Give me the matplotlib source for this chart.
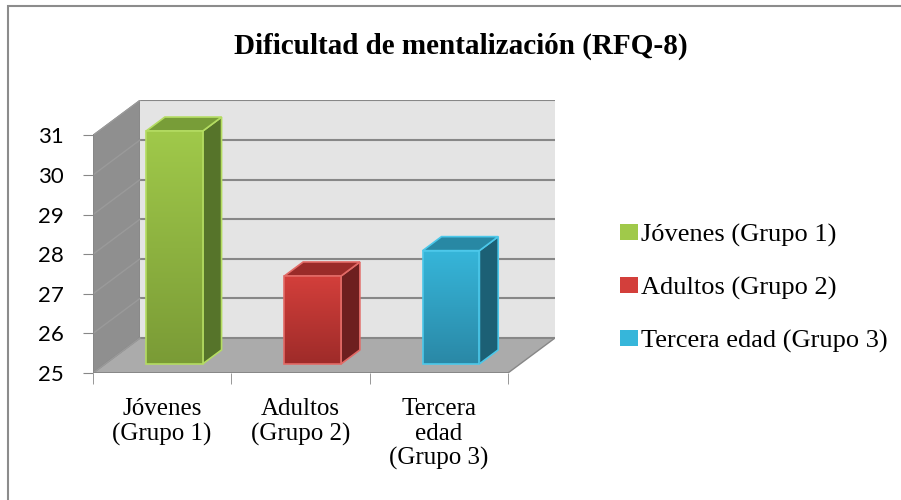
import numpy as np
import matplotlib.pyplot as plt
from matplotlib.patches import Polygon, Patch, Rectangle
from matplotlib.colors import LinearSegmentedColormap

# Datos
categorias = ["Jóvenes\n(Grupo 1)", "Adultos\n(Grupo 2)", "Tercera\nedad\n(Grupo 3)"]
leyenda = ["Jóvenes (Grupo 1)", "Adultos (Grupo 2)", "Tercera edad (Grupo 3)"]
valores = [30.88, 27.22, 27.86]
yticks = [25, 26, 27, 28, 29, 30, 31]

# Colores: frente arriba, frente abajo, lado, tapa, borde
c_frente_arriba = ["#a0c94a", "#d33f3b", "#36b6da"]
c_frente_abajo = ["#7a9b36", "#9e2b29", "#2a88a6"]
c_lado = ["#56742a", "#6e1f1f", "#1c6075"]
c_tapa = ["#789d38", "#9a2b29", "#2888a4"]
c_borde = ["#b4dc62", "#e26a66", "#4cc8ea"]

# Proyeccion oblicua (profundidad)
DX = 0.34
DY = 0.884
f1, f2 = 0.26, 0.66   # profundidad de las barras
ancho = 0.41
y0 = 25

fig = plt.figure(figsize=(9.01, 5.0), dpi=100)
fig.patches.append(Rectangle((8, -10), 1000, 504, transform=None, fill=False,
                             edgecolor="#8c8c8c", linewidth=1.5))

ax = fig.add_axes([93 / 901, 127 / 500, 462 / 901, 272.6 / 500])
ax.set_xlim(0, 3 + DX)
ax.set_ylim(y0, 31 + DY)
for s in ax.spines.values():
    s.set_visible(False)

ymax = yticks[-1]
ncat = len(valores)
gris = "#878787"

# Pared lateral
ax.add_patch(Polygon([(0, y0), (0, ymax), (DX, ymax + DY), (DX, y0 + DY)],
                     closed=True, facecolor="#8f8f8f", edgecolor=gris, lw=1, zorder=1))
# Pared del fondo
ax.add_patch(Polygon([(DX, y0 + DY), (DX, ymax + DY), (ncat + DX, ymax + DY), (ncat + DX, y0 + DY)],
                     closed=True, facecolor="#e4e4e4", edgecolor="none", zorder=1))
# Suelo
ax.add_patch(Polygon([(0, y0), (ncat, y0), (ncat + DX, y0 + DY), (DX, y0 + DY)],
                     closed=True, facecolor="#ababab", edgecolor=gris, lw=1, zorder=1))
# Lineas de cuadricula
for v in yticks:
    ax.plot([DX, ncat + DX], [v + DY, v + DY], color=gris, lw=1.5, zorder=2)
    ax.plot([0, DX], [v, v + DY], color="#9a9a9a", lw=1.0, zorder=2)
ax.plot([0, 0], [y0, ymax], color=gris, lw=1.2, zorder=2)
ax.plot([0, ncat], [y0, y0], color=gris, lw=1.2, zorder=2)

# Barras
x = np.arange(ncat) + 0.5
grad = np.linspace(0, 1, 256).reshape(-1, 1)
for i, v in enumerate(valores):
    xl = x[i] - ancho / 2
    xr = x[i] + ancho / 2
    # lado derecho
    ax.add_patch(Polygon([(xr + f1 * DX, y0 + f1 * DY), (xr + f1 * DX, v + f1 * DY),
                          (xr + f2 * DX, v + f2 * DY), (xr + f2 * DX, y0 + f2 * DY)],
                         closed=True, facecolor=c_lado[i], edgecolor=c_borde[i], lw=1.2, zorder=3))
    # tapa
    ax.add_patch(Polygon([(xl + f1 * DX, v + f1 * DY), (xr + f1 * DX, v + f1 * DY),
                          (xr + f2 * DX, v + f2 * DY), (xl + f2 * DX, v + f2 * DY)],
                         closed=True, facecolor=c_tapa[i], edgecolor=c_borde[i], lw=1.2, zorder=3))
    # frente
    barra = ax.bar(x[i] + f1 * DX, v - y0, bottom=y0 + f1 * DY, width=ancho,
                   color="none", edgecolor=c_borde[i], linewidth=1.2, zorder=5)[0]
    cmap = LinearSegmentedColormap.from_list("g%d" % i, [c_frente_abajo[i], c_frente_arriba[i]])
    img = ax.imshow(grad, cmap=cmap, origin="lower", aspect="auto", zorder=4,
                    extent=[xl + f1 * DX, xr + f1 * DX, y0 + f1 * DY, v + f1 * DY])
    img.set_clip_path(barra)

ax.set_xlim(0, 3 + DX)
ax.set_ylim(y0, 31 + DY)

# Ejes
ax.set_yticks(yticks)
ax.set_yticklabels([str(t) for t in yticks], fontfamily="Lato", fontsize=16)
ax.tick_params(axis="y", direction="out", length=7, color=gris, pad=14)
ax.set_xticks(x)
ax.set_xticklabels(categorias, fontfamily="Liberation Serif", fontsize=18, linespacing=1.15)
ax.set_xticks([0, 1, 2, 3], minor=True)
ax.tick_params(axis="x", which="major", length=0, pad=18)
ax.tick_params(axis="x", which="minor", direction="out", length=8, color=gris)

fig.text(461 / 901, 1 - 46 / 500, "Dificultad de mentalización (RFQ-8)", ha="center", va="center",
         fontfamily="Liberation Serif", fontweight="bold", fontsize=21)

handles = [Patch(facecolor=c_frente_arriba[i], edgecolor="none") for i in range(ncat)]
fig.legend(handles, leyenda, loc="center left", bbox_to_anchor=(596 / 901, 1 - 288.5 / 500),
           frameon=False, prop={"family": "Liberation Serif", "size": 19},
           handlelength=0.7, handleheight=0.55, handletextpad=0.1, labelspacing=1.13)

fig.savefig("out.png", dpi=100)
